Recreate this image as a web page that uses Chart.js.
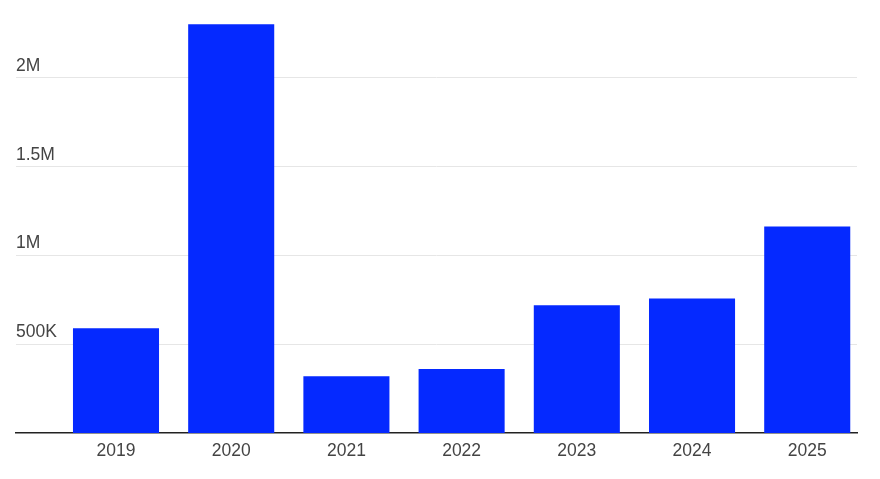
<!DOCTYPE html>
<html>
<head>
<meta charset="utf-8">
<script src="https://cdn.jsdelivr.net/npm/chart.js@4"></script>
<style>
    html, body { margin: 0; padding: 0; background: #fff; }
    #wrap { width: 880px; height: 479px; }
</style>
</head>
<body>
<div id="wrap"><canvas id="chart"></canvas></div>
<script>
// Data
const years = [2019, 2020, 2021, 2022, 2023, 2024, 2025];
const values = [590000, 2303000, 320000, 360000, 719000, 758000, 1163000];
const yTicks = [500000, 1000000, 1500000, 2000000];
const yTickLabels = ['500K', '1M', '1.5M', '2M'];

const barColor = '#0529ff';
const textColor = '#444';
const font = { family: '"Liberation Sans", Arial, sans-serif', size: 17.5 };

const ctx = document.getElementById('chart').getContext('2d');

new Chart(ctx, {
    type: 'bar',
    data: {
        datasets: [{
            data: years.map((y, i) => ({ x: y, y: values[i] })),
            backgroundColor: barColor,
            borderWidth: 0,
            categoryPercentage: 1,
            barPercentage: 0.747
        }]
    },
    options: {
        responsive: true,
        maintainAspectRatio: false,
        animation: false,
        layout: { padding: { left: 16, right: 23, top: 6, bottom: 6 } },
        plugins: {
            legend: { display: false },
            tooltip: { enabled: false }
        },
        scales: {
            x: {
                type: 'linear',
                min: 2018.132,
                max: 2025.432,
                offset: false,
                z: 1,
                grid: { display: false, drawTicks: false, offset: false },
                border: { display: true, color: '#222', width: 1.5 },
                afterBuildTicks: scale => { scale.ticks = years.map(v => ({ value: v })); },
                afterFit: scale => { scale.height = 40; },
                ticks: {
                    color: textColor,
                    font: font,
                    padding: 8,
                    callback: v => String(v)
                }
            },
            y: {
                min: 0,
                max: 2380000,
                grid: { color: '#e6e6e6', lineWidth: 1, drawTicks: false },
                border: { display: false },
                afterBuildTicks: scale => { scale.ticks = yTicks.map(v => ({ value: v })); },
                afterFit: scale => { scale.width = 0; },
                ticks: {
                    mirror: true,
                    padding: 0,
                    labelOffset: -12,
                    color: textColor,
                    font: font,
                    callback: v => yTickLabels[yTicks.indexOf(v)]
                }
            }
        }
    }
});
</script>
</body>
</html>
